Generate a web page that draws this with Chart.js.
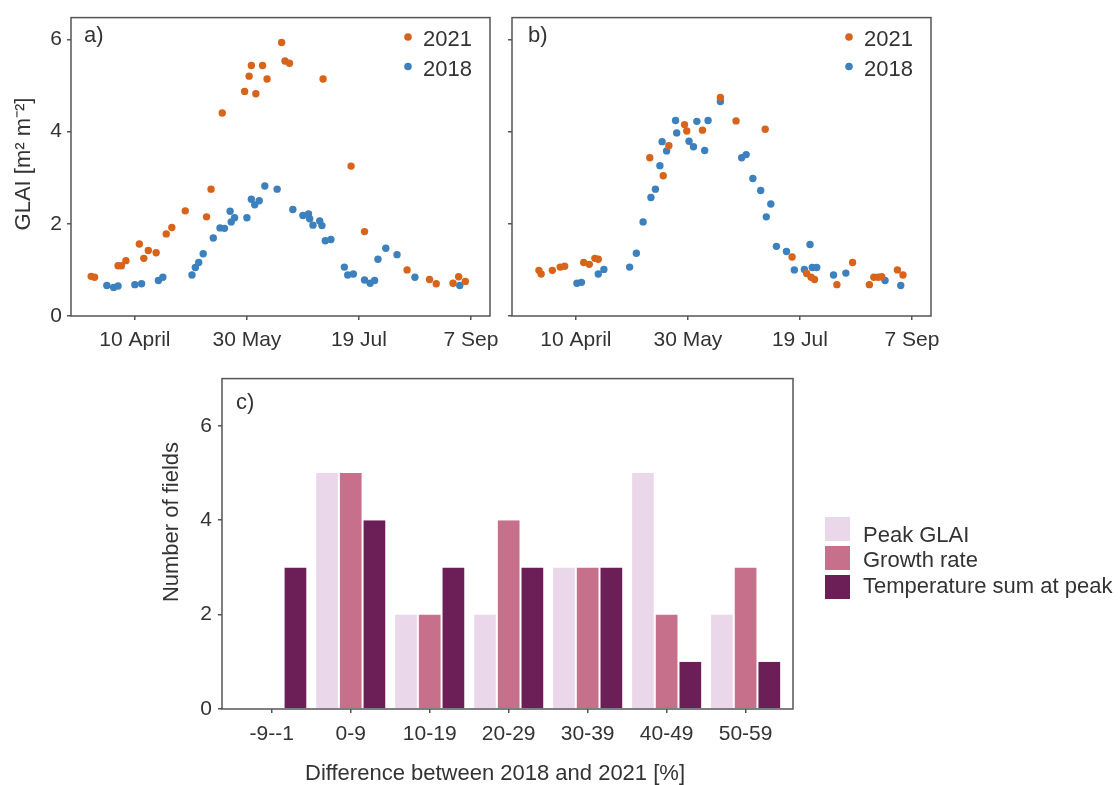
<!DOCTYPE html>
<html><head><meta charset="utf-8">
<script src="https://cdn.jsdelivr.net/npm/chart.js@4.4.1/dist/chart.umd.min.js"></script>
<style>
html,body{margin:0;padding:0;background:#fff;width:1120px;height:785px;overflow:hidden}
.c{position:absolute}
canvas{display:block}
</style></head><body>
<div class="c" style="left:0;top:0"><canvas id="ca" width="520" height="360"></canvas></div>
<div class="c" style="left:500px;top:0"><canvas id="cb" width="470" height="360"></canvas></div>
<div class="c" style="left:150px;top:360px"><canvas id="cc" width="970" height="425"></canvas></div>
<script>
// ---- data ----
const tickDays = [100, 150, 200, 250];
const tickDayLabels = ['10 April', '30 May', '19 Jul', '7 Sep'];
const glaiTicks = [0, 2, 4, 6];

// panel a
const aDays2021 = [80.5, 82, 92.5, 94, 96, 102, 104, 106, 109.5, 114, 116.5, 122.5, 132, 134, 139, 149, 151, 152, 154, 157, 159, 165.5, 167, 169, 184, 196.5, 202.5, 221.5, 231.5, 234.5, 242, 244.5, 247.5];
const aGlai2021 = [0.86, 0.84, 1.09, 1.09, 1.2, 1.56, 1.25, 1.42, 1.37, 1.78, 1.92, 2.28, 2.15, 2.75, 4.4, 4.87, 5.2, 5.43, 4.82, 5.43, 5.14, 5.93, 5.53, 5.48, 5.14, 3.25, 1.83, 1.0, 0.79, 0.70, 0.71, 0.85, 0.75];
const aDays2018 = [87.5, 90.5, 92.5, 100, 103, 110.5, 112.5, 125.5, 127, 128.5, 130.5, 135, 138, 140, 142.5, 143, 144.5, 150, 152, 153.5, 155.5, 158, 163.5, 170.5, 175, 177.5, 178, 179.5, 182.5, 183.5, 185, 187.5, 193.5, 195, 197.5, 202.5, 205, 207, 208.5, 212, 217, 225, 245];
const aGlai2018 = [0.66, 0.62, 0.65, 0.68, 0.70, 0.77, 0.84, 0.89, 1.05, 1.16, 1.35, 1.69, 1.91, 1.90, 2.27, 2.04, 2.13, 2.13, 2.53, 2.41, 2.50, 2.82, 2.75, 2.31, 2.18, 2.21, 2.11, 1.97, 2.06, 1.96, 1.63, 1.66, 1.06, 0.89, 0.91, 0.78, 0.71, 0.77, 1.23, 1.47, 1.33, 0.84, 0.66];

// panel b
const bDays2021 = [83.5, 84.5, 89.5, 93, 95, 103.5, 106, 108.5, 110, 133, 139, 141.5, 148.5, 149.5, 156.5, 164.5, 171.5, 184.5, 196.5, 203, 205, 206.5, 216.5, 223.5, 231, 233, 235, 236.5, 243.5, 246];
const bGlai2021 = [0.99, 0.91, 0.99, 1.06, 1.08, 1.16, 1.12, 1.25, 1.23, 3.43, 3.04, 3.69, 4.15, 4.01, 4.03, 4.74, 4.23, 4.05, 1.28, 0.92, 0.84, 0.79, 0.68, 1.16, 0.68, 0.84, 0.84, 0.85, 1.0, 0.89];
const bDays2018 = [100.5, 102.5, 110, 112.5, 124, 127, 130, 133.5, 135.5, 137.5, 138.5, 140.5, 144.5, 145, 150.5, 152.5, 154, 157.5, 159, 164.5, 174, 176, 179, 182.5, 185, 187, 189.5, 194, 197.5, 202, 204.5, 205.5, 207.5, 215, 220.5, 238, 245];
const bGlai2018 = [0.71, 0.73, 0.91, 1.01, 1.06, 1.36, 2.04, 2.57, 2.75, 3.26, 3.78, 3.58, 4.24, 3.97, 3.79, 3.67, 4.22, 3.59, 4.24, 4.65, 3.43, 3.50, 2.98, 2.72, 2.15, 2.43, 1.51, 1.40, 1.0, 1.01, 1.55, 1.05, 1.05, 0.89, 0.93, 0.77, 0.66];

// panel c
const categories = ['-9--1', '0-9', '10-19', '20-29', '30-39', '40-49', '50-59'];
const peakGLAI = [0, 5, 2, 2, 3, 5, 2];
const growthRate = [0, 5, 2, 4, 3, 2, 3];
const tempSum = [3, 4, 3, 3, 3, 1, 1];
const countTicks = [0, 2, 4, 6];
const seriesNames = ['Peak GLAI', 'Growth rate', 'Temperature sum at peak'];

// ---- styling ----
const FONT = "'Liberation Sans', Arial, sans-serif";
const TXT = '#333333';
const FRAME = '#555555';
const ORANGE = '#d8631b';
const BLUE = '#3d80be';
const BAR_COLORS = ['#ead8ea', '#c7708b', '#6b1f56'];
Chart.defaults.font.family = FONT;
Chart.defaults.color = TXT;

function frameStroke(chart) {
  const ctx = chart.ctx, a = chart.chartArea;
  ctx.save();
  ctx.strokeStyle = FRAME;
  ctx.lineWidth = 1.5;
  ctx.strokeRect(a.left, a.top, a.right - a.left, a.bottom - a.top);
  ctx.restore();
}
function text(ctx, s, x, y, size, align) {
  ctx.save();
  ctx.font = size + 'px ' + FONT;
  ctx.fillStyle = TXT;
  ctx.textAlign = align || 'left';
  ctx.textBaseline = 'alphabetic';
  ctx.fillText(s, x, y);
  ctx.restore();
}

function glaiPanel(id, d21, v21, d18, v18, o) {
  const deco = {
    id: 'deco',
    afterDraw(chart) {
      const ctx = chart.ctx;
      frameStroke(chart);
      text(ctx, o.tag, o.tagX, 42, 22);
      // legend
      chart.data.datasets.forEach((ds, i) => {
        const y = 37 + i * 29.5;
        ctx.save();
        ctx.fillStyle = ds.backgroundColor;
        ctx.beginPath(); ctx.arc(o.legX, y, 3.8, 0, Math.PI * 2); ctx.fill();
        ctx.restore();
        text(ctx, ds.label, o.legX + 15, 46 + i * 29.5, 22);
      });
      if (o.yTitle) {
        ctx.save();
        ctx.translate(24, 164);
        ctx.rotate(-Math.PI / 2);
        ctx.font = '22px ' + FONT;
        ctx.fillStyle = TXT;
        ctx.textAlign = 'center';
        ctx.textBaseline = 'middle';
        ctx.fillText('GLAI [m\u00B2 m\u207B\u00B2]', 0, 0);
        ctx.restore();
      }
    }
  };
  return new Chart(document.getElementById(id), {
    type: 'scatter',
    data: {
      datasets: [
        { label: '2021', data: d21.map((d, i) => ({ x: d, y: v21[i] })), backgroundColor: ORANGE, borderWidth: 0, pointRadius: 3.7, pointHoverRadius: 3.7 },
        { label: '2018', data: d18.map((d, i) => ({ x: d, y: v18[i] })), backgroundColor: BLUE, borderWidth: 0, pointRadius: 3.7, pointHoverRadius: 3.7 }
      ]
    },
    options: {
      responsive: false, animation: false, events: [],
      layout: { padding: { left: 0, top: 12, right: o.padRight, bottom: 0 } },
      plugins: { legend: { display: false }, tooltip: { enabled: false } },
      scales: {
        x: {
          type: 'linear', min: 71.5, max: 258.5,
          afterBuildTicks(ax) { ax.ticks = tickDays.map(v => ({ value: v })); },
          afterFit(ax) { ax.height = 44; },
          ticks: { callback: v => tickDayLabels[tickDays.indexOf(v)], font: { size: 21 }, padding: 8, maxRotation: 0, autoSkip: false, color: TXT },
          grid: { drawOnChartArea: false, drawTicks: true, tickLength: 4, color: FRAME, lineWidth: 1.5 },
          border: { display: false }
        },
        y: {
          type: 'linear', min: 0, max: 6.47,
          afterBuildTicks(ax) { ax.ticks = glaiTicks.map(v => ({ value: v })); },
          afterFit(ax) { ax.width = o.yWidth; },
          ticks: { callback: v => (o.yLabels ? String(v) : ''), font: { size: 21 }, padding: 5, color: TXT },
          grid: { drawOnChartArea: false, drawTicks: true, tickLength: 4, color: FRAME, lineWidth: 1.5 },
          border: { display: false }
        }
      }
    },
    plugins: [deco]
  });
}

glaiPanel('ca', aDays2021, aGlai2021, aDays2018, aGlai2018,
  { tag: 'a)', tagX: 84, legX: 408, padRight: 30, yWidth: 71, yLabels: true, yTitle: true });
glaiPanel('cb', bDays2021, bGlai2021, bDays2018, bGlai2018,
  { tag: 'b)', tagX: 28, legX: 349, padRight: 39, yWidth: 12, yLabels: false, yTitle: false });

// panel c
const decoC = {
  id: 'decoC',
  afterDraw(chart) {
    const ctx = chart.ctx;
    frameStroke(chart);
    text(ctx, 'c)', 86, 49, 22);
    // y title
    ctx.save();
    ctx.translate(22, 162);
    ctx.rotate(-Math.PI / 2);
    ctx.font = '22px ' + FONT;
    ctx.fillStyle = TXT;
    ctx.textAlign = 'center';
    ctx.textBaseline = 'middle';
    ctx.fillText('Number of fields', 0, 0);
    ctx.restore();
    // x title
    text(ctx, 'Difference between 2018 and 2021 [%]', 345, 420, 22, 'center');
    // legend
    const tops = [157, 186, 215], bases = [181.5, 207, 233];
    chart.data.datasets.forEach((ds, i) => {
      ctx.save();
      ctx.fillStyle = ds.backgroundColor;
      ctx.fillRect(675, tops[i], 25, 24);
      ctx.restore();
      text(ctx, ds.label, 713, bases[i], 22);
    });
  }
};
const barSeries = [peakGLAI, growthRate, tempSum];
new Chart(document.getElementById('cc'), {
  type: 'bar',
  data: {
    datasets: barSeries.map((vals, k) => ({
      label: seriesNames[k],
      data: vals.map((v, i) => ({ x: i, y: v })),
      backgroundColor: BAR_COLORS[k],
      borderColor: '#ffffff',
      borderWidth: { left: 1, right: 1, top: 0, bottom: 0 },
      borderSkipped: false,
      categoryPercentage: 0.9,
      barPercentage: 1.0
    }))
  },
  options: {
    responsive: false, animation: false, events: [],
    layout: { padding: { left: 0, top: 17, right: 327, bottom: 0 } },
    plugins: { legend: { display: false }, tooltip: { enabled: false } },
    scales: {
      x: {
        type: 'linear', min: -0.63, max: 6.6, offset: false,
        afterBuildTicks(ax) { ax.ticks = categories.map((c, i) => ({ value: i })); },
        afterFit(ax) { ax.height = 76; },
        ticks: { callback: v => categories[v], font: { size: 21 }, padding: 9, maxRotation: 0, autoSkip: false, color: TXT },
        grid: { drawOnChartArea: false, drawTicks: true, tickLength: 4, color: FRAME, lineWidth: 1.5, offset: false },
        border: { display: false }
      },
      y: {
        type: 'linear', min: 0, max: 7,
        afterBuildTicks(ax) { ax.ticks = countTicks.map(v => ({ value: v })); },
        afterFit(ax) { ax.width = 72; },
        ticks: { font: { size: 21 }, padding: 6, color: TXT },
        grid: { drawOnChartArea: false, drawTicks: true, tickLength: 4, color: FRAME, lineWidth: 1.5 },
        border: { display: false }
      }
    }
  },
  plugins: [decoC]
});
</script>
</body></html>
